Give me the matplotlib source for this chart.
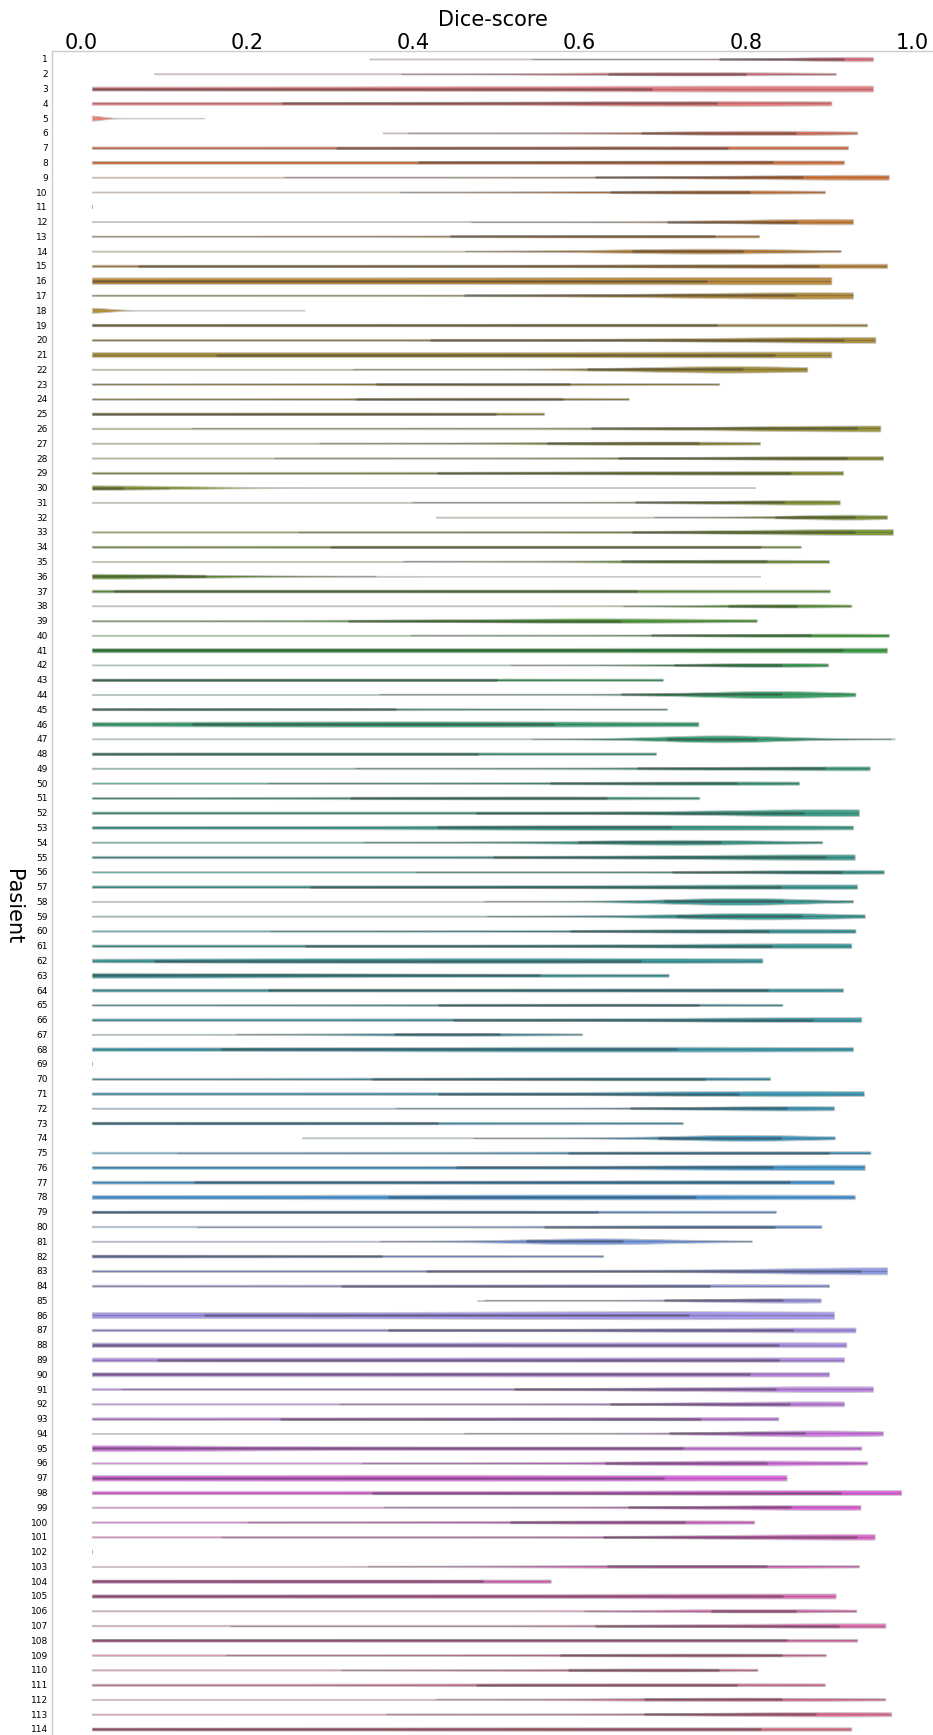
import numpy as np
import matplotlib
matplotlib.use("Agg")
import matplotlib.pyplot as plt
import seaborn as sns

# Per-patient Dice-score summaries (one violin per patient)
patients = [str(i) for i in range(1, 115)]

dice_min = [
    .347, .088, .013, .013, .013, .363, .013, .013, .013, .013,
    .013, .013, .013, .013, .013, .013, .013, .013, .013, .013,
    .013, .013, .013, .013, .013, .013, .013, .013, .013, .013,
    .013, .427, .013, .013, .013, .013, .013, .013, .013, .013,
    .013, .013, .013, .013, .013, .013, .013, .013, .013, .013,
    .013, .013, .013, .013, .013, .013, .013, .013, .013, .013,
    .013, .013, .013, .013, .013, .013, .013, .013, .013, .013,
    .013, .013, .013, .266, .013, .013, .013, .013, .013, .013,
    .013, .013, .013, .013, .477, .013, .013, .013, .013, .013,
    .013, .013, .013, .013, .013, .013, .013, .013, .013, .013,
    .013, .013, .013, .013, .013, .013, .013, .013, .013, .013,
    .013, .013, .013, .013]

dice_q1 = [
    .768, .634, .013, .242, .013, .674, .307, .406, .619, .636,
    .013, .705, .444, .663, .069, .013, .461, .013, .013, .420,
    .163, .609, .355, .331, .013, .614, .561, .646, .429, .013,
    .667, .835, .663, .300, .650, .013, .040, .778, .321, .686,
    .013, .713, .013, .650, .013, .134, .705, .013, .669, .564,
    .324, .475, .429, .598, .496, .711, .276, .701, .716, .588,
    .269, .088, .013, .225, .430, .448, .377, .169, .013, .350,
    .430, .661, .013, .694, .586, .451, .136, .369, .013, .557,
    .535, .013, .415, .313, .701, .148, .369, .013, .091, .013,
    .521, .636, .239, .707, .013, .631, .013, .350, .658, .516,
    .628, .013, .633, .013, .013, .758, .619, .013, .576, .586,
    .475, .677, .677, .013]

dice_q3 = [
    .918, .800, .687, .765, .013, .861, .779, .833, .869, .805,
    .013, .862, .763, .797, .888, .753, .859, .013, .765, .918,
    .835, .797, .588, .580, .499, .934, .744, .922, .854, .050,
    .846, .932, .931, .818, .825, .150, .669, .862, .650, .879,
    .917, .844, .501, .844, .379, .569, .813, .478, .895, .790,
    .633, .870, .710, .770, .896, .916, .842, .845, .868, .828,
    .831, .674, .552, .827, .744, .881, .504, .717, .013, .751,
    .792, .849, .430, .842, .900, .833, .853, .740, .622, .835,
    .652, .362, .939, .757, .845, .732, .857, .840, .840, .805,
    .836, .853, .746, .871, .725, .826, .701, .915, .854, .727,
    .934, .013, .825, .484, .845, .860, .912, .850, .844, .768,
    .790, .844, .884, .818]

dice_max = [
    .953, .908, .953, .903, .148, .934, .923, .918, .972, .895,
    .013, .929, .816, .914, .970, .903, .929, .269, .946, .956,
    .903, .874, .768, .659, .557, .962, .817, .965, .917, .811,
    .913, .970, .977, .866, .900, .817, .901, .927, .813, .972,
    .970, .899, .700, .932, .705, .743, .979, .692, .949, .864,
    .744, .936, .929, .892, .931, .966, .934, .929, .943, .932,
    .927, .820, .707, .917, .844, .939, .603, .929, .013, .829,
    .942, .906, .724, .907, .950, .943, .906, .931, .836, .891,
    .807, .628, .970, .900, .890, .906, .932, .921, .918, .900,
    .953, .918, .839, .965, .939, .946, .849, .987, .938, .810,
    .955, .013, .936, .565, .908, .933, .968, .934, .896, .814,
    .895, .968, .975, .927]

# Density profile of each distribution: location of the mode, its spread,
# the density at the mode and the background density level
dens_mode = [
    .93, .74, .85, .75, .013, .82, .85, .85, .95, .78,
    .013, .90, .70, .75, .97, .85, .88, .013, .80, .94,
    .85, .78, .50, .50, .30, .95, .70, .93, .85, .013,
    .87, .92, .96, .60, .80, .013, .60, .85, .62, .90,
    .95, .83, .30, .83, .20, .40, .77, .30, .92, .78,
    .55, .90, .68, .72, .90, .92, .88, .79, .82, .85,
    .88, .50, .013, .85, .65, .90, .45, .65, .013, .70,
    .85, .85, .20, .80, .85, .90, .85, .60, .30, .83,
    .62, .013, .96, .75, .85, .70, .90, .85, .85, .80,
    .90, .88, .75, .88, .013, .80, .40, .95, .90, .70,
    .93, .013, .75, .30, .88, .82, .93, .60, .75, .70,
    .70, .80, .90, .70]

dens_spread = [
    .06, .12, .30, .15, .012, .10, .20, .20, .15, .12,
    .10, .10, .20, .10, .20, .25, .15, .02, .30, .15,
    .20, .10, .15, .15, .30, .15, .12, .15, .20, .10,
    .10, .06, .15, .30, .12, .12, .30, .08, .15, .12,
    .20, .08, .30, .08, .20, .25, .07, .30, .15, .15,
    .20, .12, .20, .10, .15, .10, .20, .08, .10, .15,
    .15, .25, .25, .20, .20, .15, .10, .25, .10, .20,
    .15, .10, .30, .08, .20, .15, .20, .25, .30, .15,
    .08, .20, .12, .20, .08, .20, .15, .30, .30, .30,
    .15, .12, .20, .09, .15, .12, .30, .20, .12, .15,
    .15, .10, .15, .30, .25, .10, .15, .30, .15, .12,
    .20, .12, .12, .30]

dens_peak = [
    4.5, 3.5, 6.0, 5.0, 5.0, 4.5, 3.5, 4.0, 5.0, 3.5,
    0.0, 5.5, 2.5, 5.0, 4.5, 7.5, 6.5, 5.0, 2.8, 6.0,
    6.0, 6.5, 2.5, 2.5, 2.5, 6.0, 3.5, 4.0, 4.0, 4.5,
    4.5, 5.0, 6.0, 2.2, 3.5, 5.0, 3.0, 3.5, 4.5, 3.5,
    5.0, 4.0, 2.5, 7.0, 2.2, 5.5, 7.0, 2.5, 4.0, 3.5,
    3.0, 7.0, 5.0, 5.0, 5.5, 4.0, 4.5, 7.0, 6.5, 4.5,
    5.0, 5.5, 5.0, 3.5, 2.5, 5.0, 2.8, 5.0, 0.0, 3.2,
    5.5, 4.5, 2.8, 6.0, 2.8, 5.5, 4.0, 5.0, 2.5, 3.2,
    6.0, 3.0, 7.0, 3.0, 4.5, 8.0, 5.0, 5.0, 4.5, 4.5,
    5.5, 5.0, 3.5, 6.0, 6.0, 5.0, 6.0, 5.0, 5.0, 3.5,
    5.5, 0.0, 3.2, 3.5, 5.0, 3.5, 4.5, 3.0, 3.0, 3.0,
    3.0, 3.5, 4.5, 3.5]

dens_floor = [
    1.0, 1.0, 4.0, 3.0, 0.6, 1.0, 2.5, 3.0, 1.0, 1.0,
    0.0, 1.0, 1.2, 1.0, 2.5, 6.5, 1.5, 0.6, 2.5, 2.0,
    5.0, 1.2, 1.5, 1.5, 2.0, 1.5, 1.2, 1.2, 2.0, 0.8,
    1.0, 1.0, 1.5, 2.0, 1.2, 0.8, 2.8, 1.0, 1.5, 1.2,
    4.5, 1.0, 2.2, 1.2, 1.5, 4.0, 1.0, 2.2, 1.5, 1.5,
    2.0, 2.5, 3.0, 1.5, 2.5, 1.5, 2.5, 1.0, 1.2, 1.5,
    2.5, 3.5, 3.0, 3.0, 1.5, 2.5, 1.2, 3.5, 0.0, 2.0,
    2.5, 1.2, 2.2, 1.0, 1.8, 3.0, 3.0, 4.0, 2.2, 1.5,
    1.2, 2.0, 2.0, 2.0, 1.0, 6.0, 2.5, 4.5, 4.0, 4.0,
    2.0, 1.5, 2.5, 1.0, 3.5, 1.5, 5.5, 3.5, 1.5, 1.5,
    1.5, 0.0, 1.2, 3.2, 3.5, 1.2, 1.5, 2.8, 1.5, 1.3,
    2.0, 1.3, 1.3, 3.0]

x_ticks = [0.0, 0.2, 0.4, 0.6, 0.8, 1.0]
x_tick_labels = ["0.0", "0.2", "0.4", "0.6", "0.8", "1.0"]

# ---------------------------------------------------------------------------
W, H = 933, 1735
fig = plt.figure(figsize=(W / 100, H / 100), dpi=100)
ax = fig.add_axes([52 / W, 0.0, (W - 52) / W, 1 - 51 / H])

palette = [sns.desaturate(c, 0.8) for c in sns.husl_palette(len(patients))]
row_px = (1729 - 59) / 113.0          # pixel height of one category row
dens_to_half = 1.0 / (2.0 * row_px)   # density units -> half-width in rows
inner_col = "#333333"

for i in range(len(patients)):
    lo, hi = dice_min[i], dice_max[i]
    q1, q3 = dice_q1[i], dice_q3[i]
    col = palette[i]
    if hi - lo < 1e-6:
        ax.plot([lo, lo], [i - 0.1, i + 0.1], color="#b5b5b5", lw=0.8)
        continue
    xs = np.linspace(lo, hi, 300)
    dens = dens_floor[i] + (dens_peak[i] - dens_floor[i]) * np.exp(
        -0.5 * ((xs - dens_mode[i]) / dens_spread[i]) ** 2)
    half = dens * dens_to_half
    ax.fill_between(xs, i - half, i + half, facecolor=col,
                    edgecolor="#c8c8c8", linewidth=0.6, zorder=2)
    iqr = q3 - q1
    wl = max(lo, q1 - 1.5 * iqr)
    wh = min(hi, q3 + 1.5 * iqr)
    ax.plot([wl, wh], [i, i], color=inner_col, alpha=0.28, lw=1.0,
            solid_capstyle="butt", zorder=3)
    if q3 > q1:
        ax.plot([q1, q3], [i, i], color=inner_col, alpha=0.38, lw=1.9,
                solid_capstyle="butt", zorder=4)

ax.set_xlim((52 - 81) / 831, (W - 81) / 831)
ax.set_ylim((1735 - 59) / row_px, -(59 - 51) / row_px)

ax.xaxis.tick_top()
ax.xaxis.set_label_position("top")
ax.set_xticks(x_ticks)
ax.set_xticklabels(x_tick_labels, fontsize=15)
ax.set_yticks(range(len(patients)))
ax.set_yticklabels(patients, fontsize=6.5)
ax.tick_params(axis="x", length=0, pad=-1.5)
ax.tick_params(axis="y", length=0, pad=3.0)
ax.set_xlabel("Dice-score", fontsize=15, labelpad=5)

for side in ("right", "bottom"):
    ax.spines[side].set_visible(False)
for side in ("left", "top"):
    ax.spines[side].set_color("#cccccc")
    ax.spines[side].set_linewidth(1.0)

fig.text(13 / W, 1 - 907 / H, "Pasient", rotation=270, ha="center",
         va="center", fontsize=15)

fig.savefig("out.png", dpi=100)
